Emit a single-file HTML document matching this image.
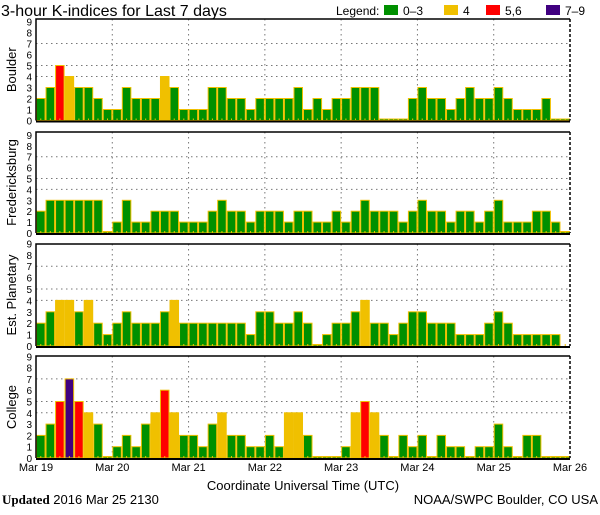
<!DOCTYPE html>
<html><head><meta charset="utf-8"><style>
body{margin:0;background:#fff;}
svg text{font-family:"Liberation Sans",sans-serif;}
</style></head><body>
<svg id="c" width="600" height="510" xmlns="http://www.w3.org/2000/svg">
<text x="1" y="16" font-size="16">3-hour K-indices for Last 7 days</text>
<g font-size="12">
<text x="336" y="15">Legend:</text>
<rect x="384" y="5" width="14" height="10" fill="#009000"/>
<text x="403" y="15">0–3</text>
<rect x="444" y="5" width="14" height="10" fill="#f0c000"/>
<text x="463" y="15">4</text>
<rect x="486" y="5" width="14" height="10" fill="#ff0000"/>
<text x="505" y="15">5,6</text>
<rect x="546" y="5" width="14" height="10" fill="#400080"/>
<text x="565" y="15">7–9</text>
</g>
<text x="303" y="490" font-size="13" text-anchor="middle">Coordinate Universal Time (UTC)</text>
<text x="2" y="504" font-size="13" font-family="Liberation Serif"><tspan font-weight="bold" font-family="Liberation Serif">Updated</tspan> 2016 Mar 25 2130</text>
<text x="598" y="504" font-size="13" text-anchor="end">NOAA/SWPC Boulder, CO USA</text>
</svg>
<script>
const dayLabels=["Mar 19","Mar 20","Mar 21","Mar 22","Mar 23","Mar 24","Mar 25","Mar 26"];
const yTicks=[0,1,2,3,4,5,6,7,8,9];
const panelNames=["Boulder","Fredericksburg","Est. Planetary","College"];
const boulder=[2,3,5,4,3,3,2,1,1,3,2,2,2,4,3,1,1,1,3,3,2,2,1,2,2,2,2,3,1,2,1,2,2,3,3,3,0,0,0,2,3,2,2,1,2,3,2,2,3,2,1,1,1,2,0,0];
const fredericksburg=[2,3,3,3,3,3,3,0,1,3,1,1,2,2,2,1,1,1,2,3,2,2,1,2,2,2,1,2,2,1,1,2,1,2,3,2,2,2,1,2,3,2,2,1,2,2,1,2,3,1,1,1,2,2,1,0];
const planetary=[2,3,4,4,3,4,2,1,2,3,2,2,2,3,4,2,2,2,2,2,2,2,1,3,3,2,2,3,2,0,1,2,2,3,4,2,2,1,2,3,3,2,2,2,1,1,1,2,3,2,1,1,1,1,1,null];
const college=[2,3,5,7,5,4,3,0,1,2,1,3,4,6,4,2,2,1,3,4,2,2,1,1,2,1,4,4,2,0,0,0,1,4,5,4,2,0,2,1,2,0,2,1,1,0,1,1,3,1,0,2,2,0,0,0];
const series=[boulder,fredericksburg,planetary,college];
const geom=[{top:19,zero:120.5,unit:11.0},{top:132,zero:233,unit:10.9},{top:244,zero:346,unit:11.4},{top:356,zero:458,unit:11.3}];
const svg=document.getElementById('c');
const NS="http://www.w3.org/2000/svg";
const X0=36,X1=570,N=56;
const bw=(X1-X0)/N;
function xs(i){return X0+i*bw;}
function mk(t,a,p){const e=document.createElementNS(NS,t);for(const k in a)e.setAttribute(k,a[k]);(p||svg).appendChild(e);return e;}
function col(v){return v<=3?"#009000":v==4?"#f0c000":v<=6?"#ff0000":"#400080";}
series.forEach((data,p)=>{
  const g=geom[p];
  const ys=v=>g.zero-v*g.unit;
  const grp=mk('g',{});
  
  
  [4,5,7].forEach(v=>{const l=mk('line',{x1:X0,x2:X1,y1:ys(v),y2:ys(v),stroke:"#777","stroke-dasharray":"1.5,3.5"},grp);
    
    });
  for(let d=1;d<7;d++){const x=X0+d*8*bw;const l=mk('line',{x1:x,x2:x,y1:g.top,y2:g.zero,stroke:"#777","stroke-dasharray":"1.5,3.5"},grp);
    
    }
  data.forEach((v,i)=>{
    if(v===null)return;
    const h=Math.max(v*g.unit,1.5);
    const r=mk('rect',{x:xs(i)+0.5,y:g.zero-h,width:bw-1,height:h,fill:col(v),stroke:"#f0c000","stroke-width":1},grp);
    
    
  });
  for(let i=0;i<N;i++){const t=mk('line',{x1:xs(i)+bw/2,x2:xs(i)+bw/2,y1:g.zero-2,y2:g.zero,stroke:"#f0c000"},grp);
    
    }
  const fr=mk('path',{d:`M${X0},${g.zero} V${g.top} H${X1}`,fill:"none",stroke:"#000","stroke-width":1.5},grp);
  
  
  const rb=mk('line',{x1:X1,x2:X1,y1:g.top,y2:g.zero,stroke:"#000","stroke-width":1.5,"stroke-dasharray":"3,2"},grp);
  
  
  const bl=mk('line',{x1:X0,x2:X1,y1:g.zero+1,y2:g.zero+1,stroke:"#000","stroke-width":2},grp);
  
  
  yTicks.forEach(v=>{const t=mk('text',{x:32,y:ys(v)+4,"font-size":10,"text-anchor":"end"},grp);t.textContent=v;
    
    });
  const cy=(g.top+g.zero)/2;
  const lab=mk('text',{x:0,y:0,"font-size":13,"text-anchor":"middle",transform:`translate(16,${cy}) rotate(-90)`},grp);
  lab.textContent=panelNames[p];
  
  
});
dayLabels.forEach((s,d)=>{const t=mk('text',{x:X0+d*8*bw,y:471,"font-size":11,"text-anchor":"middle"});t.textContent=s;
  
  });
</script>
</body></html>
